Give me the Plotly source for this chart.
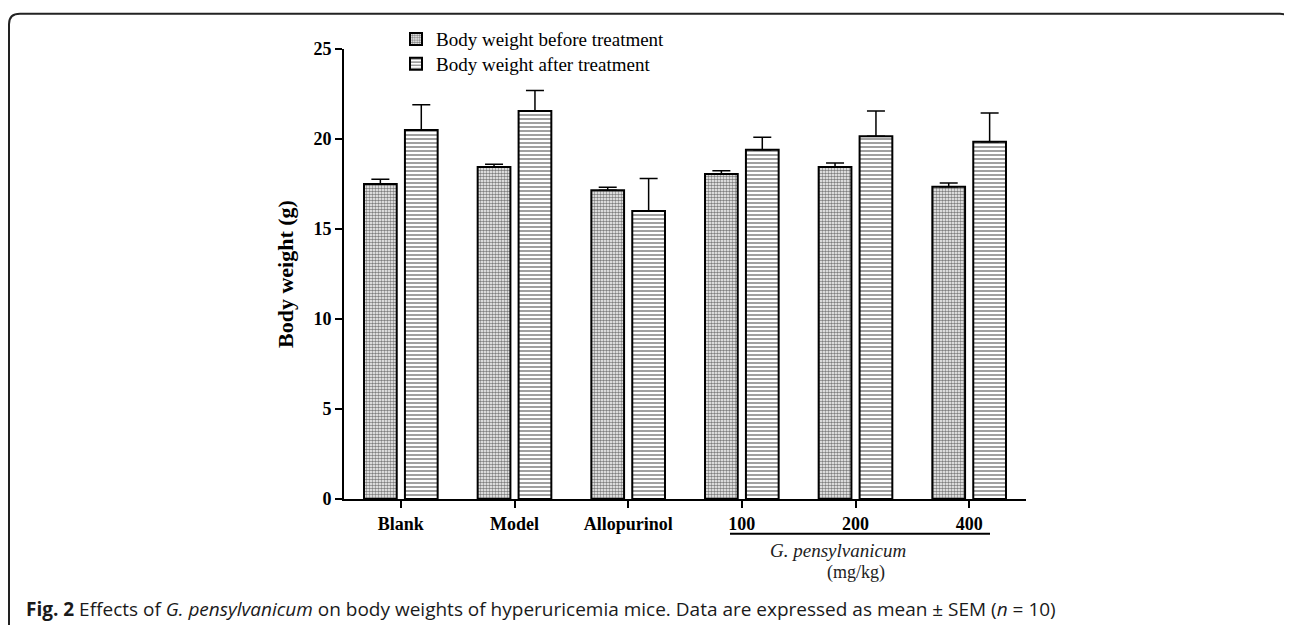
import plotly.graph_objects as go

# ---------------- data ----------------
categories = ["Blank", "Model", "Allopurinol", "100", "200", "400"]
before_mean = [17.5, 18.45, 17.15, 18.05, 18.45, 17.35]
before_sem = [0.27, 0.15, 0.17, 0.18, 0.22, 0.2]
after_mean = [20.5, 21.55, 16.0, 19.4, 20.15, 19.85]
after_sem = [1.4, 1.15, 1.8, 0.7, 1.4, 1.6]
series_names = ["Body weight before treatment", "Body weight after treatment"]
y_ticks = [0, 5, 10, 15, 20, 25]

# page body has an 8px margin, so the figure is drawn 8px in from the corner
OFF = 8
W, H = 1292 - OFF, 626 - OFF
ML, MR, MT, MB = 344 - OFF, 266, 45 - OFF, 127
PW, PH = W - ML - MR, H - MT - MB


def px(x):
    return (x - OFF - ML) / PW


def py(y):
    return (H - MB - (y - OFF)) / PH


SERIF = "Liberation Serif, Times New Roman, serif"

fig = go.Figure()
fig.add_trace(go.Bar(
    x=categories, y=before_mean, name=series_names[0], legend="legend",
    marker=dict(color="white", line=dict(color="black", width=2),
                pattern=dict(shape=".", size=3, solidity=0.55,
                             fgcolor="#000000", bgcolor="white")),
    error_y=dict(type="data", symmetric=False, array=before_sem,
                 arrayminus=[0] * len(before_sem), color="black",
                 thickness=1.5, width=9),
))
fig.add_trace(go.Bar(
    x=categories, y=after_mean, name=series_names[1], legend="legend2",
    marker=dict(color="white", line=dict(color="black", width=2),
                pattern=dict(shape="-", size=4, solidity=0.4,
                             fgcolor="#111111", bgcolor="white")),
    error_y=dict(type="data", symmetric=False, array=after_sem,
                 arrayminus=[0] * len(after_sem), color="black",
                 thickness=1.5, width=9),
))

legend_common = dict(xanchor="left", yanchor="middle",
                     font=dict(family=SERIF, size=19, color="black"),
                     bgcolor="rgba(0,0,0,0)", itemwidth=30)

fig.update_layout(
    width=W, height=H,
    margin=dict(l=ML, r=MR, t=MT, b=MB),
    paper_bgcolor="white", plot_bgcolor="white",
    barmode="group", bargap=0.28, bargroupgap=0.2,
    showlegend=True,
    legend=dict(x=px(396), y=py(35), **legend_common),
    legend2=dict(x=px(396), y=py(60), **legend_common),
    xaxis=dict(type="category", range=[-0.5, 5.5], showline=True,
               linecolor="black", linewidth=2, ticks="outside",
               ticklen=7, tickwidth=2, tickcolor="black",
               showgrid=False, zeroline=False,
               tickfont=dict(family=SERIF, size=18, color="black", weight="bold"),
               ticklabelstandoff=0),
    yaxis=dict(range=[0, 25], tickvals=y_ticks, showline=True,
               linecolor="black", linewidth=2, ticks="outside",
               ticklen=7, tickwidth=2, tickcolor="black",
               showgrid=False, zeroline=False,
               tickfont=dict(family=SERIF, size=18, color="black", weight="bold"),
               title=dict(text="Body weight (g)", standoff=14,
                          font=dict(family=SERIF, size=22, color="black", weight="bold"))),
)

# group label beneath G. pensylvanicum doses
fig.add_shape(type="line", xref="paper", yref="paper",
              x0=px(730), x1=px(990), y0=py(534), y1=py(534),
              line=dict(color="black", width=2))
fig.add_annotation(text="<i>G. pensylvanicum</i>", xref="paper", yref="paper",
                   x=px(838), y=py(551), xanchor="center", yanchor="middle",
                   showarrow=False, font=dict(family=SERIF, size=19, color="#222222"))
fig.add_annotation(text="(mg/kg)", xref="paper", yref="paper",
                   x=px(856), y=py(573), xanchor="center", yanchor="middle",
                   showarrow=False, font=dict(family=SERIF, size=18, color="#222222"))

# caption
fig.add_annotation(
    text="<b>Fig. 2</b> Effects of <i>G. pensylvanicum</i> on body weights of hyperuricemia mice. "
         "Data are expressed as mean ± SEM (<i>n</i> = 10)",
    xref="paper", yref="paper", x=px(24), y=py(610), xanchor="left", yanchor="middle",
    showarrow=False, font=dict(family="Open Sans, sans-serif", size=19, color="#1a1a1a"))


# figure panel border (rounded frame)
def P(x, y):
    return f"{px(x):.5f},{py(y):.5f}"


path = ("M " + P(9, 626) + " L " + P(9, 20) + " Q " + P(9, 9.5) + " " + P(20, 9.5) +
        " L " + P(1280, 9.5) + " Q " + P(1291, 9.5) + " " + P(1291, 21))
fig.add_shape(type="path", xref="paper", yref="paper", path=path,
              line=dict(color="#222222", width=2))

fig.write_html("out.html")
